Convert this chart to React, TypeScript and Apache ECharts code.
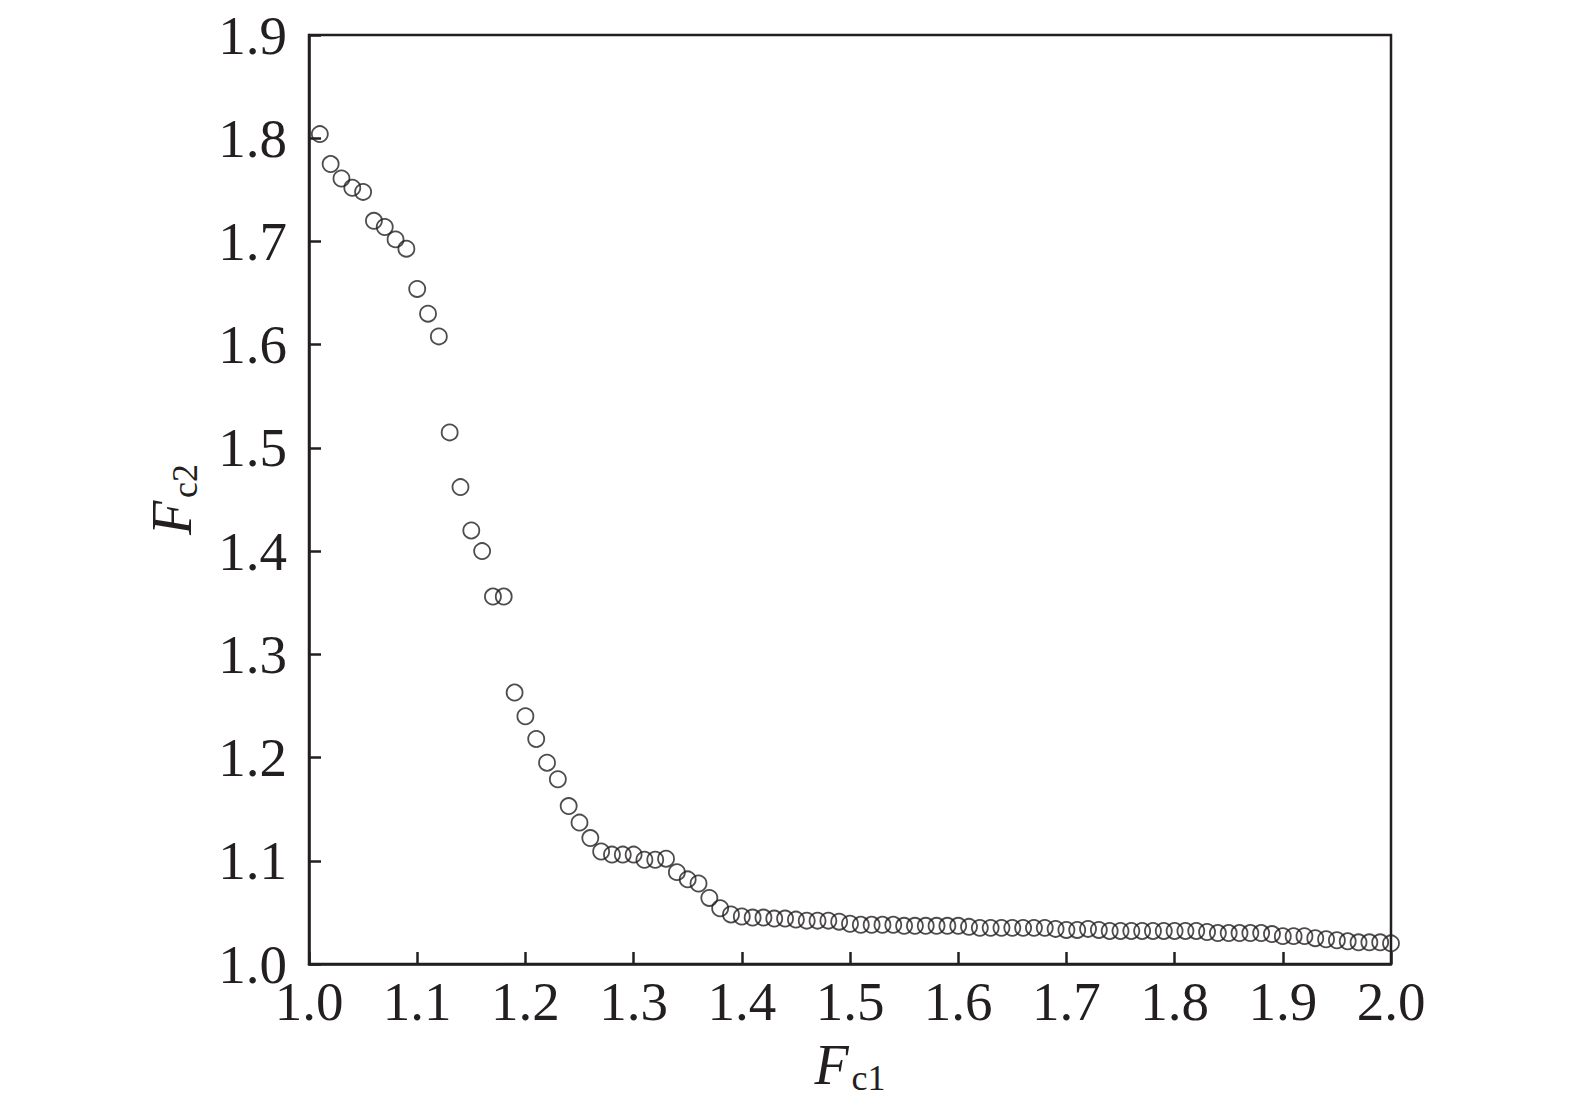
import React, { useEffect, useRef } from "react";
import * as echarts from "echarts";

const fc1Values: number[] = [
  1.01, 1.02, 1.03, 1.04, 1.05, 1.06, 1.07, 1.08, 1.09, 1.1,
  1.11, 1.12, 1.13, 1.14, 1.15, 1.16, 1.17, 1.18, 1.19, 1.2,
  1.21, 1.22, 1.23, 1.24, 1.25, 1.26, 1.27, 1.28, 1.29, 1.3,
  1.31, 1.32, 1.33, 1.34, 1.35, 1.36, 1.37, 1.38, 1.39, 1.4,
  1.41, 1.42, 1.43, 1.44, 1.45, 1.46, 1.47, 1.48, 1.49, 1.5,
  1.51, 1.52, 1.53, 1.54, 1.55, 1.56, 1.57, 1.58, 1.59, 1.6,
  1.61, 1.62, 1.63, 1.64, 1.65, 1.66, 1.67, 1.68, 1.69, 1.7,
  1.71, 1.72, 1.73, 1.74, 1.75, 1.76, 1.77, 1.78, 1.79, 1.8,
  1.81, 1.82, 1.83, 1.84, 1.85, 1.86, 1.87, 1.88, 1.89, 1.9,
  1.91, 1.92, 1.93, 1.94, 1.95, 1.96, 1.97, 1.98, 1.99, 2.0,
];

const fc2Values: number[] = [
  1.804, 1.775, 1.761, 1.752, 1.748, 1.72, 1.714, 1.702, 1.693, 1.654,
  1.63, 1.608, 1.515, 1.462, 1.42, 1.4, 1.356, 1.356, 1.263, 1.24,
  1.218, 1.195, 1.179, 1.153, 1.137, 1.122, 1.109, 1.106, 1.106, 1.106,
  1.101, 1.101, 1.102, 1.089, 1.082, 1.078, 1.064, 1.054, 1.048, 1.046,
  1.045, 1.045, 1.044, 1.044, 1.043, 1.042, 1.042, 1.042, 1.041, 1.039,
  1.038, 1.038, 1.038, 1.038, 1.037, 1.037, 1.037, 1.037, 1.037, 1.037,
  1.036, 1.035, 1.035, 1.035, 1.035, 1.035, 1.035, 1.035, 1.034, 1.033,
  1.033, 1.034, 1.033, 1.032, 1.032, 1.032, 1.032, 1.032, 1.032, 1.032,
  1.032, 1.032, 1.031, 1.03, 1.03, 1.03, 1.03, 1.03, 1.029, 1.027,
  1.027, 1.027, 1.025, 1.024, 1.023, 1.022, 1.021, 1.021, 1.021, 1.02,
];

const xTicks = { min: 1.0, max: 2.0, interval: 0.1 };
const yTicks = { min: 1.0, max: 1.9, interval: 0.1 };

const INK = "#231f20";
const SERIF = "'Liberation Serif', 'DejaVu Serif', serif";

export default function App() {
  const ref = useRef<HTMLDivElement>(null);

  useEffect(() => {
    if (!ref.current) return;
    const chart = echarts.init(ref.current, undefined, { renderer: "svg" });
    const data = fc1Values.map((x, i) => [x, fc2Values[i]]);
    const labelStyle = {
      color: INK,
      fontFamily: SERIF,
      fontSize: 55,
    };
    const nameRich = {
      f: { fontFamily: SERIF, fontStyle: "italic", fontSize: 56, color: INK },
      s: { fontFamily: SERIF, fontSize: 36, color: INK, padding: [26, 0, 0, 3] },
    };
    chart.setOption({
      animation: false,
      backgroundColor: "#ffffff",
      grid: {
        left: 309,
        right: 184,
        top: 35,
        bottom: 146,
        outerBoundsMode: "none",
        containLabel: false,
        show: true,
        borderColor: INK,
        borderWidth: 2.5,
        backgroundColor: "transparent",
      },
      xAxis: {
        type: "value",
        min: xTicks.min,
        max: xTicks.max,
        interval: xTicks.interval,
        name: "{f|F}{s|c1}",
        nameLocation: "middle",
        nameGap: 70,
        nameTextStyle: { rich: nameRich },
        axisLine: { show: true, lineStyle: { color: INK, width: 2.5 } },
        axisTick: { show: true, inside: true, length: 12, lineStyle: { color: INK, width: 2.5 } },
        splitLine: { show: false },
        axisLabel: {
          ...labelStyle,
          margin: 10,
          formatter: (v: number) => v.toFixed(1),
        },
      },
      yAxis: {
        type: "value",
        min: yTicks.min,
        max: yTicks.max,
        interval: yTicks.interval,
        name: "{f|F}{s|c2}",
        nameLocation: "middle",
        nameGap: 106,
        nameRotate: 90,
        nameTextStyle: { rich: nameRich },
        axisLine: { show: true, lineStyle: { color: INK, width: 2.5 } },
        axisTick: { show: true, inside: true, length: 12, lineStyle: { color: INK, width: 2.5 } },
        splitLine: { show: false },
        axisLabel: {
          ...labelStyle,
          margin: 22,
          formatter: (v: number) => v.toFixed(1),
        },
      },
      series: [
        {
          type: "scatter",
          data,
          symbol: "circle",
          symbolSize: 16,
          itemStyle: {
            color: "rgba(255,255,255,0)",
            borderColor: INK,
            borderWidth: 1.8,
          },
        },
      ],
    });
    return () => chart.dispose();
  }, []);

  return (
    <div
      ref={ref}
      style={{ position: "fixed", left: 0, top: 0, width: 1575, height: 1110, background: "#fff" }}
    />
  );
}
